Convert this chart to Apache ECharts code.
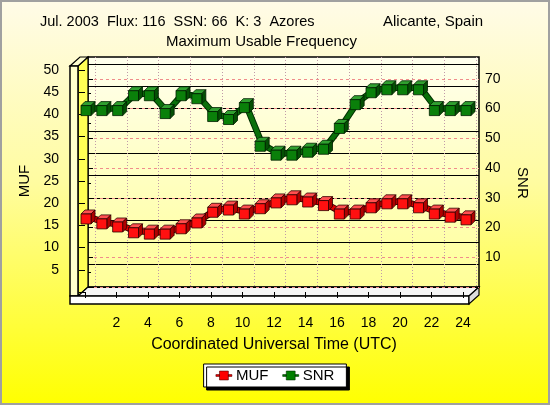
<!DOCTYPE html>
<html>
<head>
<meta charset="utf-8">
<script src="https://cdn.jsdelivr.net/npm/echarts@6/dist/echarts.min.js"></script>
<style>
html,body{margin:0;padding:0;background:#fff;}
#chart{width:550px;height:405px;}
</style>
</head>
<body>
<div id="chart"></div>
<script>
// ---- data ----
const hours = [0,1,2,3,4,5,6,7,8,9,10,11,12,13,14,15,16,17,18,19,20,21,22,23,24];
const mufValues = [15.7,14.6,13.9,12.6,12.3,12.3,13.5,14.8,17.2,17.7,16.8,18.0,19.3,20.0,19.5,18.7,16.8,16.8,18.2,19.1,19.1,18.2,16.8,16.1,15.5];
const snrValues = [60,60,60,65,65,59,65,64,58,57,61,48,45,45,46,47,54,62,66,67,67,67,60,60,60];
const seriesNames = ['MUF','SNR'];
const titleLeft = 'Jul. 2003  Flux: 116  SSN: 66  K: 3  Azores';
const titleRight = 'Alicante, Spain';
const titleSub = 'Maximum Usable Frequency';
const xName = 'Coordinated Universal Time (UTC)';

const FONT = '"Liberation Sans", Arial, sans-serif';
const chart = echarts.init(document.getElementById('chart'), null, {renderer:'canvas'});
const LG = echarts.graphic.LinearGradient;

function pairs(vals){ return hours.map((h,i)=>[h, vals[i]]); }

function cubeRenderer(front, top, side, edge){
  return function(params, api){
    const p = api.coord([api.value(0), api.value(1)]);
    const s = 10, d = 4;
    const x = p[0] - s/2 - d/2, y = p[1] - s/2 + d/2;
    const st = {stroke: edge, lineWidth: 0.8};
    return {type:'group', children:[
      {type:'polygon', shape:{points:[[x,y],[x+d,y-d],[x+s+d,y-d],[x+s,y]]}, style:Object.assign({fill:top}, st)},
      {type:'polygon', shape:{points:[[x+s,y],[x+s+d,y-d],[x+s+d,y+s-d],[x+s,y+s]]}, style:Object.assign({fill:side}, st)},
      {type:'rect', shape:{x:x, y:y, width:s, height:s}, style:Object.assign({fill:front}, st)}
    ]};
  };
}

const txt = (fs)=>({fontFamily: FONT, fontSize: fs, color:'#000', fontWeight:'normal'});

const option = {
  animation: false,
  textStyle: {fontFamily: FONT},
  title: [
    {text: titleLeft, left: 40, top: 14, padding: 0, textStyle: txt(14.5)},
    {text: titleRight, left: 383, top: 14, padding: 0, textStyle: txt(15)},
    {text: titleSub, left: 166, top: 34, padding: 0, textStyle: txt(15)}
  ],
  legend: {
    left: 'center', top: 364,
    backgroundColor: '#fff', borderColor: '#000', borderWidth: 1,
    shadowColor: '#000', shadowOffsetX: 3, shadowOffsetY: 3, shadowBlur: 0,
    padding: [4, 12], itemGap: 14, itemWidth: 16, itemHeight: 9,
    textStyle: {fontFamily: FONT, fontSize: 15, color: '#000', padding:[0,0,0,-1]},
    data: [
      {name: seriesNames[0], icon: 'path://M0,4h4v2h-4z M4,0h10v10h-10z M14,4h4v2h-4z', itemStyle:{color:'#ff0000', borderColor:'#500000', borderWidth:0.6}},
      {name: seriesNames[1], icon: 'path://M0,4h4v2h-4z M4,0h10v10h-10z M14,4h4v2h-4z', itemStyle:{color:'#008000', borderColor:'#003000', borderWidth:0.6}}
    ]
  },
  graphic: [
    {type:'rect', z:-20, shape:{x:1, y:1, width:548, height:403},
      style:{fill: new LG(0,0,0,1,[{offset:0,color:'#fffbe8'},{offset:0.45,color:'#fffca0'},{offset:1,color:'#ffff00'}]), stroke:'#a0a0a0', lineWidth:2}},
    {type:'rect', z:-10, shape:{x:88, y:57, width:391, height:230},
      style:{fill: new LG(0,0,0,1,[{offset:0,color:'#ffffee'},{offset:1,color:'#ffff98'}]), stroke:'#000', lineWidth:1.5}},
    {type:'polygon', z:-9, shape:{points:[[78,66],[88,57],[88,287],[78,296]]}, style:{fill:'#ffff55', stroke:'#000', lineWidth:1.2}},
    {type:'polygon', z:-9, shape:{points:[[70,66],[78,66],[88,57],[80,57]]}, style:{fill:'#ffffd0', stroke:'#000', lineWidth:1.2}},
    {type:'rect', z:-9, shape:{x:70, y:66, width:8, height:230}, style:{fill:'#ffffcc', stroke:'#000', lineWidth:1.5}},
    {type:'polygon', z:-9, shape:{points:[[78,296],[88,287],[479,287],[469,296]]}, style:{fill:'#f6f6f6', stroke:'#000', lineWidth:1.2}},
    {type:'rect', z:-8, shape:{x:70, y:296, width:399, height:8}, style:{fill:'#ffffff', stroke:'#000', lineWidth:1.5}},
    {type:'polygon', z:-8, shape:{points:[[469,296],[479,287],[479,295],[469,304]]}, style:{fill:'#dcdcdc', stroke:'#000', lineWidth:1.2}}
  ],
  grid: [
    {left: 85, right: 87, top: 70, bottom: 113},   // front plane (axes labels)
    {left: 88, right: 71, top: 64, bottom: 118},   // back wall MUF horizontals
    {left: 95, right: 74, top: 57, bottom: 118},   // back wall verticals
    {left: 88, right: 82, top: 64, bottom: 118},   // data marks
    {left: 88, right: 71, top: 78.8, bottom: 118}  // back wall SNR (0..70)
  ],
  xAxis: [
    {gridIndex:0, type:'value', min:0, max:24, interval:2, offset:12,
      axisLine:{show:false}, axisTick:{show:true, length:6, lineStyle:{color:'#000'}},
      axisLabel:{margin:12, fontSize:14, color:'#000', fontFamily:FONT, formatter:v=> v===0 ? '' : String(v)},
      splitLine:{show:false},
      name:xName, nameLocation:'middle', nameGap:33, nameTextStyle:{fontSize:16, color:'#000', fontFamily:FONT}},
    {gridIndex:1, type:'value', min:0, max:1, show:false},
    {gridIndex:2, type:'value', min:0, max:24, interval:2,
      axisLine:{show:false}, axisTick:{show:false}, axisLabel:{show:false},
      splitLine:{show:true, lineStyle:{color:'#c09aa8', width:1, type:[1,2]}}},
    {gridIndex:3, type:'value', min:0, max:24, show:false},
    {gridIndex:4, type:'value', min:0, max:1, show:false}
  ],
  yAxis: [
    {gridIndex:0, type:'value', min:0, max:50, interval:5, position:'left', offset:15,
      axisLine:{show:false}, axisTick:{show:true, length:6, lineStyle:{color:'#000'}},
      axisLabel:{margin:11, fontSize:14, color:'#000', fontFamily:FONT, formatter:v=> v===0 ? '' : String(v)},
      splitLine:{show:false},
      name:'MUF', nameLocation:'middle', nameRotate:90, nameGap:35, nameTextStyle:{fontSize:15, color:'#000', fontFamily:FONT}},
    {gridIndex:1, type:'value', min:0, max:50, interval:5,
      axisLine:{show:false}, axisTick:{show:false}, axisLabel:{show:false},
      splitLine:{show:true, lineStyle:{color:'#000', width:1}}},
    {gridIndex:4, type:'value', min:0, max:70, interval:10, position:'right',
      axisLine:{show:false}, axisTick:{show:true, length:5, lineStyle:{color:'#000'}},
      minorTick:{show:true, splitNumber:2, length:3, lineStyle:{color:'#000'}},
      axisLabel:{margin:6, fontSize:14, color:'#000', fontFamily:FONT, formatter:v=> v===0 ? '' : String(v)},
      splitLine:{show:true, lineStyle:{color:'#f08c8c', width:1, type:[3,3]}},
      name:'SNR', nameLocation:'middle', nameRotate:-90, nameGap:36, nameTextStyle:{fontSize:15, color:'#000', fontFamily:FONT}},
    {gridIndex:2, type:'value', min:0, max:1, show:false},
    {gridIndex:3, type:'value', min:0, max:50, show:false},
    {gridIndex:3, type:'value', min:0, max:75, show:false}
  ],
  series: [
    {type:'line', name:'', xAxisIndex:3, yAxisIndex:4, data:pairs(mufValues), showSymbol:false, z:3,
      lineStyle:{color:'#400000', width:6.5}, silent:true},
    {type:'line', name:seriesNames[0], xAxisIndex:3, yAxisIndex:4, data:pairs(mufValues), showSymbol:false, z:3,
      lineStyle:{color:'#e00000', width:4.5}, itemStyle:{color:'#ff0000'}},
    {type:'line', name:'', xAxisIndex:3, yAxisIndex:5, data:pairs(snrValues), showSymbol:false, z:3,
      lineStyle:{color:'#003000', width:6.5}, silent:true},
    {type:'line', name:seriesNames[1], xAxisIndex:3, yAxisIndex:5, data:pairs(snrValues), showSymbol:false, z:3,
      lineStyle:{color:'#0a700a', width:4.5}, itemStyle:{color:'#008000'}},
    {type:'custom', name:seriesNames[0], xAxisIndex:3, yAxisIndex:4, data:pairs(mufValues), z:4,
      itemStyle:{color:'#ff0000'}, renderItem: cubeRenderer('#ff1010', '#ff5050', '#b00000', '#300000')},
    {type:'custom', name:seriesNames[1], xAxisIndex:3, yAxisIndex:5, data:pairs(snrValues), z:4,
      itemStyle:{color:'#008000'}, renderItem: cubeRenderer('#0a800a', '#30a030', '#045004', '#002000')}
  ]
};
chart.setOption(option);
</script>
</body>
</html>
